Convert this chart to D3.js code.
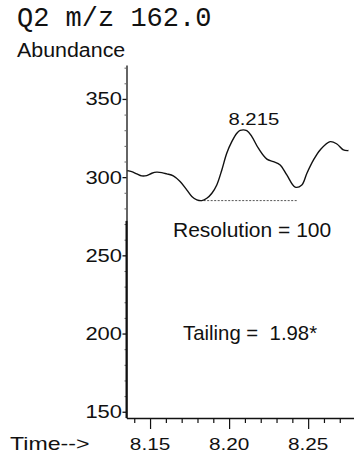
<!DOCTYPE html>
<html>
<head>
<meta charset="utf-8">
<script src="https://cdn.jsdelivr.net/npm/d3@7"></script>
<style>
body{margin:0;background:#fff}
svg{display:block}
text{font-family:"Liberation Sans",Arial,sans-serif;fill:#111;white-space:pre}
</style>
</head>
<body>
<div id="chart"></div>
<script>
// ion chromatogram trace
var times = [8.1356,8.1384,8.1416,8.1447,8.1479,8.1511,8.1542,8.1574,8.1606,8.1647,8.1690,8.1732,8.1764,8.1796,8.1827,8.1859,8.1891,8.1922,8.1954,8.1985,8.2017,8.2049,8.2070,8.2112,8.2144,8.2185,8.2239,8.2280,8.2323,8.2365,8.2418,8.2460,8.2492,8.2534,8.2576,8.2639,8.2682,8.2723,8.2755]
var abund = [304.2,303.5,302.1,300.8,301.0,302.5,303.2,302.9,302.1,300.8,297.2,291.9,287.6,285.5,285.0,286.5,289.7,295.0,304.6,315.3,322.7,328.1,329.9,329.7,325.9,318.5,311.5,309.9,307.8,301.4,293.6,295.0,302.5,311.0,317.4,322.7,321.2,317.4,317.0]
var yTicks = [150,200,250,300,350]
var xTicks = [8.15,8.20,8.25]
var baseStart = 8.1817, baseEnd = 8.2430, baseLevel = 285
var peakTime = 8.215, peakLabel = '8.215'
var title = 'Q2 m/z 162.0'
var yTitle = 'Abundance'
var xTitle = 'Time-->'
var notes = ['Resolution = 100', 'Tailing =  1.98*']

var svg = d3.select('#chart').append('svg')
.attr('width',354)
.attr('height',454)

var x = d3.scaleLinear().domain([8.1351,8.279]).range([126.5,354])
var y = d3.scaleLinear().domain([146,371.7]).range([418,65])

// text helper, some of the scanned labels are wider than the font
function label(px,py,str,size,anchor,sx,fam){
    var g = svg.append('g').attr('transform','translate('+px+','+py+') scale('+(sx||1)+',1)')
    var t = g.append('text').attr('text-anchor',anchor||'start').attr('xml:space','preserve').style('font-size',size+'px').text(str)
    if(fam) t.style('font-family',fam)
    return t
}

// y axis
var yaxis = svg.append('g').attr('transform','translate('+x.range()[0]+',0)')
.call(d3.axisLeft(y).tickValues(d3.range(150,371,10)).tickSize(2).tickSizeOuter(0).tickFormat(''))
yaxis.select('.domain').attr('stroke','#111').attr('stroke-width',1.3)
yaxis.selectAll('.tick line').attr('stroke','#666')
yaxis.selectAll('.tick').filter(function(d){return yTicks.indexOf(d)>=0}).select('line').attr('x2',-4).attr('stroke','#111').attr('stroke-width',1.3)
// lower part of the axis is drawn heavier in the scan
svg.append('line')
.attr('x1',x.range()[0]).attr('x2',x.range()[0])
.attr('y1',y(146)).attr('y2',y(272))
.attr('stroke','#111').attr('stroke-width',2)

yTicks.forEach(function(v){
    label(122,y(v)+6.5,String(v),18,'end',1.22)
})

// x axis
var xaxis = svg.append('g').attr('transform','translate(0,'+y.range()[0]+')')
.call(d3.axisBottom(x).tickValues(d3.range(8.14,8.275,0.01)).tickSize(5).tickSizeOuter(0).tickFormat(''))
xaxis.select('.domain').attr('stroke','#111').attr('stroke-width',1.4)
xaxis.selectAll('.tick line').attr('stroke','#111').attr('stroke-width',1.2)
xaxis.selectAll('.tick').filter(function(d){return xTicks.some(function(m){return Math.abs(m-d)<1e-6})}).select('line').attr('y2',11)

xTicks.forEach(function(v){
    label(x(v),450,d3.format('.2f')(v),16.5,'middle',1.26)
})

// baseline under the peak
svg.append('line')
.attr('x1',x(baseStart)).attr('x2',x(baseEnd))
.attr('y1',y(baseLevel)).attr('y2',y(baseLevel))
.attr('stroke','#555').attr('stroke-width',1).attr('stroke-dasharray','2,1.5')

// trace
var line = d3.line()
.x(function(d,i){return x(times[i])})
.y(function(d){return y(d)})
.curve(d3.curveCatmullRom.alpha(0.5))
svg.append('path').datum(abund)
.attr('d',line)
.attr('fill','none')
.attr('stroke','#111')
.attr('stroke-width',1.4)

// labels
label(17,26,title,27,'start',1,'"Liberation Mono","DejaVu Sans Mono",monospace')
label(17,57,yTitle,20,'start',1.07)
label(10,450,xTitle,18.5,'start',1.25)
label(x(peakTime)+1,125,peakLabel,16,'middle',1.27)
label(173,237,notes[0],21,'start',1)
label(183,340,notes[1],21,'start',0.97)
</script>
</body>
</html>
